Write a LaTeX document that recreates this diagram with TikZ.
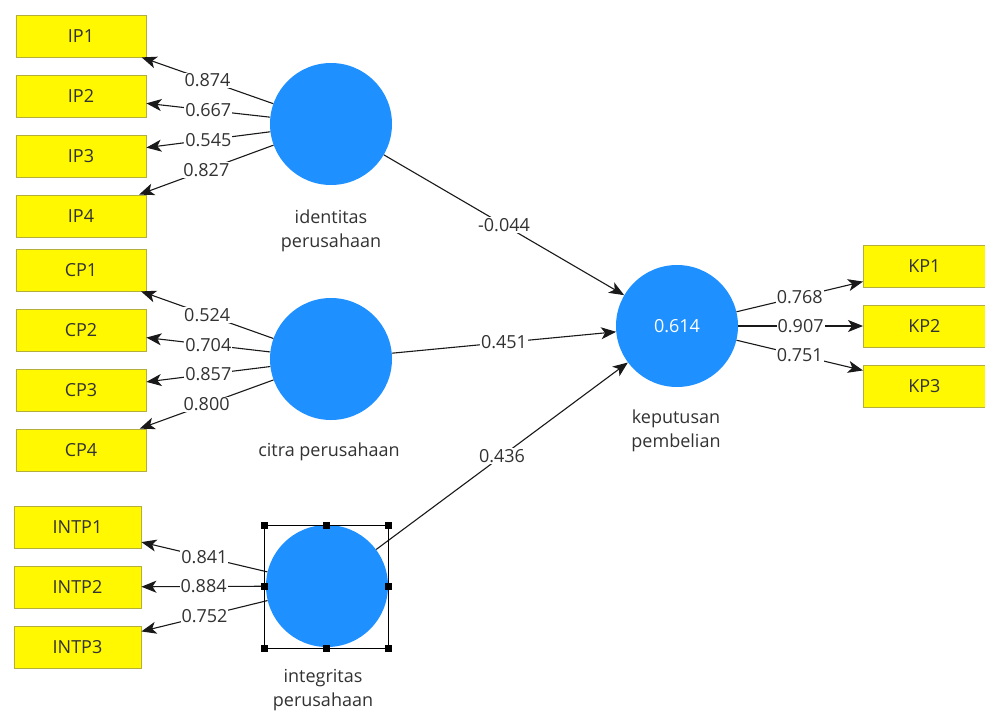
\documentclass[tikz,border=0pt]{standalone}
\usepackage{fontspec}
\setmainfont{Open Sans}
\usepackage{tikz}
\usetikzlibrary{arrows.meta}
\usetikzlibrary{positioning}

\definecolor{boxfill}{RGB}{255,248,0}
\definecolor{boxline}{RGB}{180,175,60}
\definecolor{latentblue}{RGB}{30,144,255}
\definecolor{textgray}{RGB}{50,50,50}

\begin{document}
\begin{tikzpicture}[x=1pt, y=-1pt,
    indicator/.style={draw=boxline, fill=boxfill, line width=0.8pt, minimum width=130pt, minimum height=42pt, inner sep=0pt, text=textgray, font=\fontsize{18}{22}\selectfont},
    latent/.style={circle, fill=latentblue, minimum size=122pt, inner sep=0pt, text=white, font=\fontsize{18}{22}\selectfont},
    caption/.style={align=center, text=textgray, font=\fontsize{18}{24}\selectfont},
    coef/.style={fill=white, inner sep=1pt, text=textgray, font=\fontsize{18}{22}\selectfont},
    link/.style={draw=black!90, line width=1.1pt, -{Stealth[length=15pt,width=12pt,inset=4pt]}},
    handle/.style={fill=black, minimum size=7pt, inner sep=0pt}]

    \fill[white] (0,0) rectangle (985,715);
    \useasboundingbox (0,0) rectangle (985,715);

    % latent variables
    \node[latent] (idp) at (331,124) {};
    \node[latent] (cp) at (331,359) {};
    \node[latent] (intp) at (327,586) {};
    \node[latent] (kp) at (677,326) {0.614};

    \node[caption] (idplabel) at (331,231) {identitas\\perusahaan};
    \node[caption] (cplabel) at (329,452) {citra perusahaan};
    \node[caption] (intplabel) at (323,690) {integritas\\perusahaan};
    \node[caption] (kplabel) at (676,431) {keputusan\\pembelian};

    % indicators with loadings
    \foreach \n/\y/\v in {1/36/0.874, 2/96/0.667, 3/156/0.545, 4/216/0.827} {
        \node[indicator] (IP\n) at (81,\y) {IP\n};
        \draw[link] (idp) -- node[coef] {\v} (IP\n);
    }
    \foreach \n/\y/\v in {1/270/0.524, 2/330/0.704, 3/390/0.857, 4/450/0.800} {
        \node[indicator] (CP\n) at (81,\y) {CP\n};
        \draw[link] (cp) -- node[coef] {\v} (CP\n);
    }
    \foreach \n/\y/\v in {1/527/0.841, 2/587/0.884, 3/647/0.752} {
        \node[indicator, minimum width=127pt] (INTP\n) at (77.5,\y) {INTP\n};
        \draw[link] (intp) -- node[coef] {\v} (INTP\n);
    }
    \foreach \n/\y/\v in {1/266/0.768, 2/326/0.907, 3/386/0.751} {
        \node[indicator, anchor=west] (KP\n) at (863,\y) {\hspace*{-8pt}KP\n};
        \draw[link] (kp) -- node[coef] {\v} (KP\n);
    }

    % path coefficients
    \draw[link] (idp) -- node[coef] {-0.044} (kp);
    \draw[link] (cp) -- node[coef] {0.451} (kp);
    \draw[link] (intp) -- node[coef] {0.436} (kp);

    % selection frame
    \draw[black, line width=1pt] (264,525) rectangle (388,648);
    \foreach \hx/\hy in {264/525, 326/525, 388/525, 264/586.5, 388/586.5, 264/648, 326/648, 388/648}
        \node[handle] at (\hx,\hy) {};
\end{tikzpicture}
\end{document}
